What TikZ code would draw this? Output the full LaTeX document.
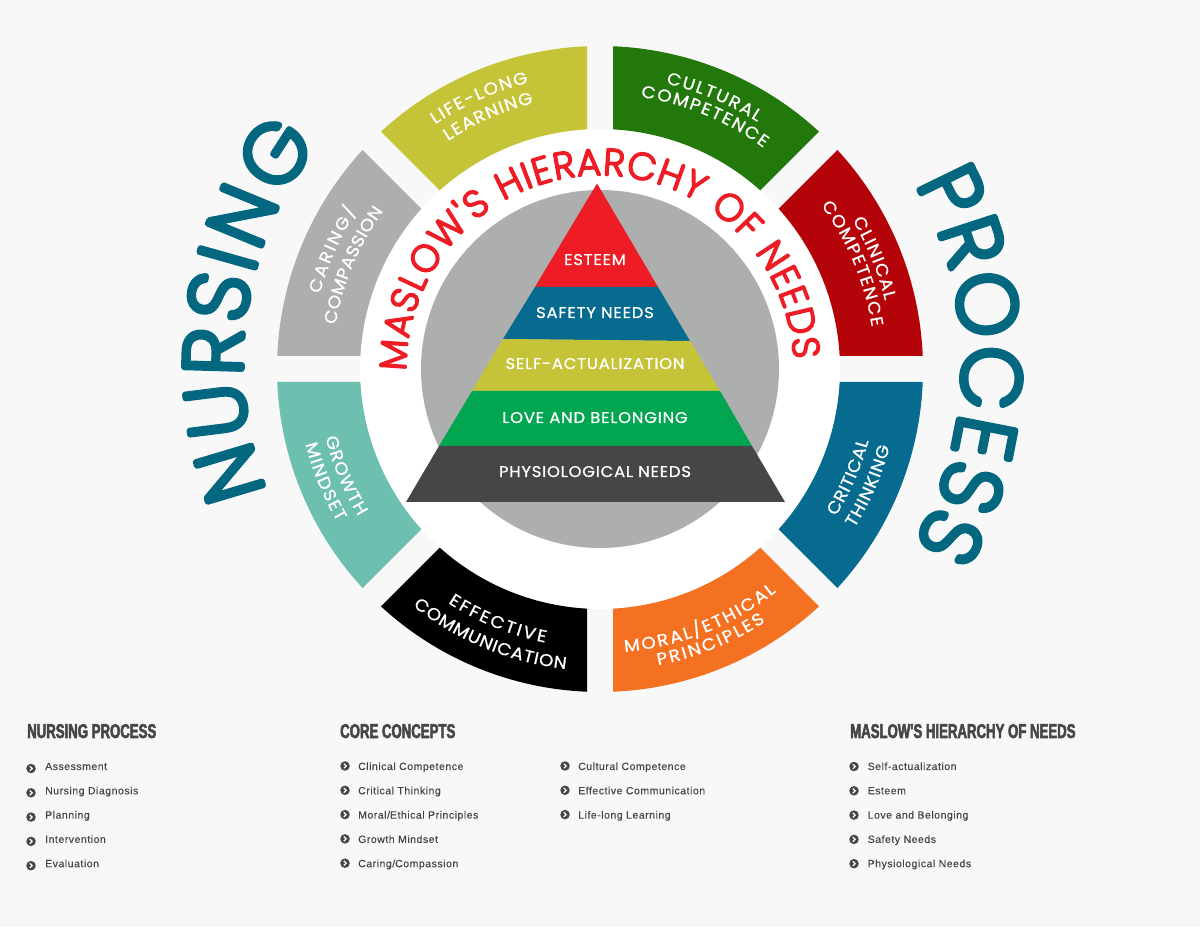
\documentclass[tikz,border=0pt]{standalone}
\usepackage{fontspec}
\usetikzlibrary{decorations.text}
\setmainfont{Liberation Sans}
\newfontfamily\bigf[FakeBold=7.5]{Poppins ExtraLight}
\newfontfamily\midf[FakeBold=6.5]{Poppins ExtraLight}
\newfontfamily\segf[FakeBold=0.8,FakeStretch=1.08]{Poppins}
\newfontfamily\pyrf[FakeBold=0.8,LetterSpace=5,FakeStretch=1.06]{Poppins}
\newfontfamily\headf[FakeStretch=0.66,FakeBold=2.5]{Liberation Sans Bold}
\newfontfamily\listf[LetterSpace=5,FakeBold=0.3]{Liberation Sans}
\newcommand{\mfs}{\midf\fontsize{37}{39}\selectfont}
\newcommand{\bigfs}{\bigf\fontsize{82}{84}\selectfont}
\newcommand{\sgf}{\segf\fontsize{17}{20}\selectfont}
\definecolor{bgc}{HTML}{F7F7F9}
\definecolor{faint}{HTML}{F8F8F9}
\definecolor{olive}{HTML}{C5C337}
\definecolor{leaf}{HTML}{22780B}
\definecolor{darkred}{HTML}{B40409}
\definecolor{teal}{HTML}{066B8E}
\definecolor{orangeseg}{HTML}{F47121}
\definecolor{mint}{HTML}{6DBFB0}
\definecolor{grayseg}{HTML}{ADAFAE}
\definecolor{redp}{HTML}{EE1C25}
\definecolor{greenp}{HTML}{02A650}
\definecolor{darkp}{HTML}{464646}
\definecolor{bigteal}{HTML}{03687F}
\tikzset{
  pyrlabel/.style={anchor=base,text=white,inner sep=0pt,font=\pyrf\fontsize{15.5}{17}\selectfont},
  headlabel/.style={anchor=base west,text=darkp,inner sep=0pt,font=\headf\fontsize{20}{22}\selectfont},
  listlabel/.style={anchor=base west,text=darkp,inner sep=0pt,font=\listf\fontsize{10.5}{12}\selectfont},
  bulletdot/.style={circle,fill=darkp,minimum size=9.5pt,inner sep=0pt,
    path picture={\draw[white,line width=1.2pt,line join=miter]
      ([xshift=-1.2pt,yshift=2.3pt]path picture bounding box.center)--
      ([xshift=1.2pt]path picture bounding box.center)--
      ([xshift=-1.2pt,yshift=-2.3pt]path picture bounding box.center);}},
}
\newcommand{\sectorband}[3]{%
  \pgfmathsetmacro{\sao}{#2+2.307}\pgfmathsetmacro{\eao}{#3-2.307}%
  \pgfmathsetmacro{\sai}{#2+3.105}\pgfmathsetmacro{\eai}{#3-3.105}%
  \fill[#1] (\sao:323) arc[start angle=\sao,end angle=\eao,radius=323pt]
    -- (\eai:240) arc[start angle=\eai,end angle=\sai,radius=240pt] -- cycle;}
% font, colour, radius, from, to, text
\newcommand{\arctext}[6]{%
  \path[decorate,decoration={text along path,text align={fit to path},
    text={|#1\color{#2}|#6}}]
    (#4:#3) arc[start angle=#4,end angle=#5,radius=#3 pt];}
\begin{document}
\begin{tikzpicture}[x=1pt,y=1pt]
\useasboundingbox (0,0) rectangle (1200,927);
\fill[bgc] (0,0) rectangle (1200,927);
\begin{scope}
\clip (0,0) rectangle (1200,927);
\fill[faint] (600,558) circle[radius=525pt];
\end{scope}
\begin{scope}[shift={(600,558)}]
\fill[white] (0,0) circle[radius=240pt];
\fill[grayseg] (0,0) circle[radius=179pt];
\sectorband{leaf}{45}{90}
\sectorband{darkred}{0}{45}
\sectorband{teal}{-45}{0}
\sectorband{orangeseg}{-90}{-45}
\sectorband{black}{-135}{-90}
\sectorband{mint}{180}{225}
\sectorband{grayseg}{135}{180}
\sectorband{olive}{90}{135}
% curved titles
\begin{scope}[line join=round,line cap=round]
\arctext{\mfs}{redp}{194}{180.5}{3}{MASLOW'S HIERARCHY OF NEEDS}
\end{scope}
\arctext{\sgf}{white}{295}{124}{104}{LIFE-LONG}
\arctext{\sgf}{white}{274}{123.7}{104}{LEARNING}
\arctext{\sgf}{white}{293}{77}{57.5}{CULTURAL}
\arctext{\sgf}{white}{275}{81.5}{53.5}{COMPETENCE}
\arctext{\sgf}{white}{293}{30.5}{13.5}{CLINICAL}
\arctext{\sgf}{white}{275}{36.5}{8.8}{COMPETENCE}
\arctext{\sgf}{white}{290}{165}{147}{CARING/}
\arctext{\sgf}{white}{268}{170.5}{143.9}{COMPASSION}
\arctext{\sgf}{white}{278}{-32}{-15}{CRITICAL}
\arctext{\sgf}{white}{300}{-32}{-15}{THINKING}
\arctext{\sgf}{white}{284}{-85}{-51.6}{MORAL/ETHICAL}
\arctext{\sgf}{white}{302}{-78.9}{-56.8}{PRINCIPLES}
\arctext{\sgf}{white}{279}{-123}{-101.3}{EFFECTIVE}
\arctext{\sgf}{white}{302}{-128.3}{-96.5}{COMMUNICATION}
\arctext{\sgf}{white}{283}{194}{211.4}{GROWTH}
\arctext{\sgf}{white}{304}{194.3}{210.2}{MINDSET}
\end{scope}
\begin{scope}[shift={(600,564)},line join=round,line cap=round]
\arctext{\bigfs}{bigteal}{358}{201}{142}{NURSING}
\arctext{\bigfs}{bigteal}{363}{29.5}{-30}{PROCESS}
\end{scope}
% pyramid
\fill[redp] (597,743.5)--(658,640)--(535,640)--cycle;
\fill[teal] (535,640)--(658,640)--(690,586)--(503,588)--cycle;
\fill[olive] (503,588)--(690,586)--(720,536)--(472,536)--cycle;
\fill[greenp] (472,536)--(720,536)--(752,481)--(439,481)--cycle;
\fill[darkp] (439,481)--(752,481)--(785,425)--(406,425)--cycle;
\node[pyrlabel] (pesteem) at (595,662) {ESTEEM};
\node[pyrlabel] (psafety) at (595,609) {SAFETY NEEDS};
\node[pyrlabel] (pself) at (595,558) {SELF-ACTUALIZATION};
\node[pyrlabel] (plove) at (595,504) {LOVE AND BELONGING};
\node[pyrlabel] (pphys) at (595,450) {PHYSIOLOGICAL NEEDS};
% legends
\node[headlabel] (h1) at (27,189) {NURSING PROCESS};
\node[headlabel] (h2) at (340,189) {CORE CONCEPTS};
\node[headlabel] (h3) at (850,189) {MASLOW'S HIERARCHY OF NEEDS};
\foreach \i/\t in {0/Assessment,1/Nursing Diagnosis,2/Planning,3/Intervention,4/Evaluation}{
  \node[bulletdot] (ba\i) at (31,158.5-24.3*\i) {};
  \node[listlabel] (la\i) at (45,157-24.3*\i) {\t};}
\foreach \i/\t in {0/Clinical Competence,1/Critical Thinking,2/Moral\slash Ethical Principles,3/Growth Mindset,4/Caring\slash Compassion}{
  \node[bulletdot] (bb\i) at (345,161-24.3*\i) {};
  \node[listlabel] (lb\i) at (358,157-24.3*\i) {\t};}
\foreach \i/\t in {0/Cultural Competence,1/Effective Communication,2/Life-long Learning}{
  \node[bulletdot] (bc\i) at (565,161-24.3*\i) {};
  \node[listlabel] (lc\i) at (578,157-24.3*\i) {\t};}
\foreach \i/\t in {0/Self-actualization,1/Esteem,2/Love and Belonging,3/Safety Needs,4/Physiological Needs}{
  \node[bulletdot] (bd\i) at (854,160.5-24.3*\i) {};
  \node[listlabel] (ld\i) at (867.5,157-24.3*\i) {\t};}
\end{tikzpicture}
\end{document}
